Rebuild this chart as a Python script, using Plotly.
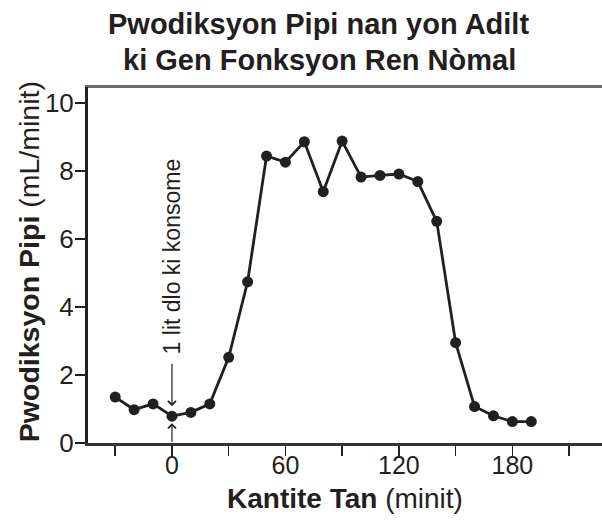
import plotly.graph_objects as go

# Data
time_min = [-30, -20, -10, 0, 10, 20, 30, 40, 50, 60, 70, 80, 90, 100, 110, 120,
            130, 140, 150, 160, 170, 180, 190]
urine_ml_min = [1.35, 0.98, 1.15, 0.79, 0.90, 1.15, 2.52, 4.74, 8.44, 8.26, 8.86,
                7.39, 8.88, 7.82, 7.87, 7.91, 7.69, 6.52, 2.95, 1.07, 0.80, 0.63, 0.63]
x_tickvals = [-30, 0, 30, 60, 90, 120, 150, 180, 210]
x_ticktext = ["", "0", "", "60", "", "120", "", "180", ""]
y_tickvals = [0, 2, 4, 6, 8, 10]
y_ticktext = ["0", "2", "4", "6", "8", "10"]
drink_time = 0
drink_label = "1 lit dlo ki konsome"
title_lines = ["Pwodiksyon Pipi nan yon Adilt", "ki Gen Fonksyon Ren Nòmal"]

INK = "#231f20"
FONT = "Liberation Sans, Arial, Helvetica, sans-serif"
X_RANGE = [-44.4, 227.4]

fig = go.Figure()
fig.add_trace(go.Scatter(
    x=time_min, y=urine_ml_min, mode="lines+markers",
    line=dict(color=INK, width=2.8),
    marker=dict(color=INK, size=11),
    showlegend=False, cliponaxis=False, hoverinfo="skip",
))

drink_idx = time_min.index(drink_time)
drink_y = urine_ml_min[drink_idx]

annotations = [
    dict(text="<b>%s</b>" % title_lines[0], xref="paper", yref="paper",
         x=0.449, y=1.178, xanchor="center", yanchor="middle", showarrow=False,
         font=dict(size=29, color=INK, family=FONT)),
    dict(text="<b>%s</b>" % title_lines[1], xref="paper", yref="paper",
         x=0.451, y=1.076, xanchor="center", yanchor="middle", showarrow=False,
         font=dict(size=29, color=INK, family=FONT)),
    dict(text="<b>Kantite Tan</b> (minit)", xref="paper", yref="paper",
         x=0.5, y=0, xanchor="center", yanchor="middle", yshift=-55,
         showarrow=False, font=dict(size=28, color=INK, family=FONT)),
    dict(text="<b>Pwodiksyon Pipi</b> (mL/minit)", xref="paper", yref="paper",
         x=0, y=0.508, xanchor="center", yanchor="middle", xshift=-59,
         textangle=-90, showarrow=False, font=dict(size=28.5, color=INK, family=FONT)),
    dict(text=drink_label, xref="x", yref="paper", x=drink_time, y=0.524,
         xanchor="center", yanchor="middle", textangle=-90, showarrow=False,
         font=dict(size=23, color=INK, family=FONT)),
    dict(text="", xref="x", yref="y", x=drink_time, y=drink_y, ax=0, ay=-54,
         showarrow=True, arrowhead=4, arrowsize=1.3, arrowwidth=1.2,
         arrowcolor=INK, standoff=10),
    dict(text="", xref="x", yref="y", x=drink_time, y=drink_y, ax=0, ay=27,
         showarrow=True, arrowhead=4, arrowsize=1.3, arrowwidth=1.2,
         arrowcolor=INK, standoff=7),
]

fig.update_layout(
    width=602, height=525,
    margin=dict(l=88, r=0, t=87, b=82, autoexpand=False),
    paper_bgcolor="white", plot_bgcolor="white",
    font=dict(family=FONT, color=INK),
    annotations=annotations,
    hovermode=False,
    xaxis=dict(
        range=X_RANGE, tickvals=x_tickvals, ticktext=x_ticktext, automargin=False,
        showgrid=False, zeroline=False, showline=True, linecolor="#333333", linewidth=2.5,
        ticks="outside", ticklen=10, tickwidth=1.5, tickcolor=INK, ticklabelstandoff=-12,
        tickfont=dict(size=25, color=INK, family=FONT),
    ),
    xaxis2=dict(
        overlaying="x", side="top", range=X_RANGE, showline=True,
        linecolor="#6a6a6a", linewidth=2, showticklabels=False,
        ticks="", showgrid=False, zeroline=False, automargin=False,
    ),
    yaxis=dict(
        range=[0, 10.47], tickvals=y_tickvals, ticktext=y_ticktext, automargin=False,
        showgrid=False, zeroline=False, showline=True, linecolor=INK, linewidth=3,
        ticks="outside", ticklen=10, tickwidth=1.5, tickcolor=INK, ticklabelstandoff=-4,
        tickfont=dict(size=26, color=INK, family=FONT),
    ),
    shapes=[dict(type="line", xref="paper", yref="paper", x0=0, x1=1, y0=1, y1=1,
                 line=dict(color="#6a6a6a", width=2))],
)
# invisible trace that activates the top axis (frame line)
fig.add_trace(go.Scatter(x=[time_min[0]], y=[urine_ml_min[0]], xaxis="x2",
                         mode="markers", marker=dict(opacity=0), showlegend=False,
                         hoverinfo="skip"))

fig.write_html("out.html", post_script="document.body.style.margin='0';",
               config={"displayModeBar": False, "staticPlot": True})
